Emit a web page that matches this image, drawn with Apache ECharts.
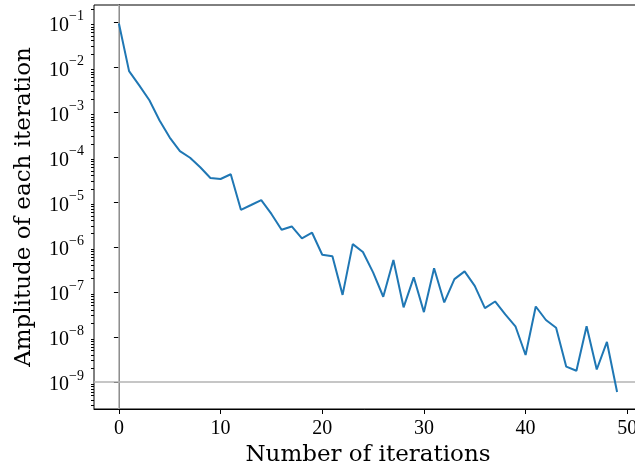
<!DOCTYPE html>
<html>
<head>
<meta charset="utf-8">
<title>Amplitude of each iteration</title>
<script src="https://cdn.jsdelivr.net/npm/echarts@6/dist/echarts.min.js"></script>
<style>
    html, body { margin: 0; padding: 0; background: #fff; }
    #main { width: 635px; height: 472px; }
</style>
</head>
<body>
<div id="main"></div>
<script>
    // 数据
    var iterations = [0, 1, 2, 3, 4, 5, 6, 7, 8, 9,
        10, 11, 12, 13, 14, 15, 16, 17, 18, 19,
        20, 21, 22, 23, 24, 25, 26, 27, 28, 29,
        30, 31, 32, 33, 34, 35, 36, 37, 38, 39,
        40, 41, 42, 43, 44, 45, 46, 47, 48, 49];
    var amplitude = [9.5e-2, 8.3e-3, 4.0e-3, 1.86e-3, 6.6e-4, 2.75e-4, 1.38e-4, 9.8e-5, 6.0e-5, 3.47e-5,
        3.3e-5, 4.2e-5, 6.8e-6, 8.7e-6, 1.12e-5, 5.5e-6, 2.45e-6, 2.9e-6, 1.58e-6, 2.1e-6,
        6.8e-7, 6.3e-7, 8.7e-8, 1.17e-6, 7.8e-7, 2.75e-7, 7.9e-8, 5.2e-7, 4.6e-8, 2.14e-7,
        3.6e-8, 3.4e-7, 5.9e-8, 1.95e-7, 2.9e-7, 1.38e-7, 4.4e-8, 6.2e-8, 3.2e-8, 1.74e-8,
        4.0e-9, 4.8e-8, 2.4e-8, 1.62e-8, 2.2e-9, 1.78e-9, 1.74e-8, 1.9e-9, 7.8e-9, 6.0e-10];
    var xTicks = [0, 10, 20, 30, 40, 50];
    var yExponents = [-9, -8, -7, -6, -5, -4, -3, -2, -1];
    var threshold = 1e-9;

    var xMin = -2.45, xMax = 51.45;
    var yMin = Math.pow(10, -9.60), yMax = Math.pow(10, -0.61);

    var yMajor = [];
    var yMinor = [];
    for (var i = 0; i < yExponents.length; i++) {
        yMajor.push(Math.pow(10, yExponents[i]));
    }
    for (var e = -10; e <= -1; e++) {
        for (var m = 2; m <= 9; m++) {
            var v = m * Math.pow(10, e);
            if (v > yMin && v < yMax) yMinor.push(v);
        }
    }

    var seriesData = [];
    for (var j = 0; j < iterations.length; j++) {
        seriesData.push([iterations[j], amplitude[j]]);
    }

    var font = '"Liberation Serif", "DejaVu Serif", serif';
    var nameFont = '"DejaVu Serif", serif';

    function powLabel(val) {
        var n = Math.round(Math.log(val) / Math.LN10);
        return '{b|10}{s|' + (n < 0 ? '\u2212' + (-n) : n) + '}';
    }

    var myChart = echarts.init(document.getElementById('main'));
    myChart.setOption({
        animation: false,
        grid: {
            left: 94, top: 5, right: -7, bottom: 63,
            show: true, borderColor: '#000', borderWidth: 1,
            containLabel: false, outerBoundsMode: 'none'
        },
        xAxis: {
            type: 'value',
            min: xMin,
            max: xMax,
            name: 'Number of iterations',
            nameLocation: 'middle',
            nameGap: 30,
            nameTextStyle: { fontFamily: nameFont, fontSize: 23, fontWeight: 'normal', color: '#000' },
            axisLine: { show: true, lineStyle: { color: '#000', width: 1 } },
            axisTick: { show: true, inside: false, length: 5, customValues: xTicks, lineStyle: { color: '#000' } },
            axisLabel: { customValues: xTicks, margin: 10, fontFamily: font, fontSize: 20, color: '#000' },
            splitLine: { show: false }
        },
        yAxis: [{
            type: 'log',
            logBase: 10,
            min: yMin,
            max: yMax,
            name: 'Amplitude of each iteration',
            nameLocation: 'middle',
            nameGap: 58,
            nameTextStyle: { fontFamily: nameFont, fontSize: 23, color: '#000' },
            axisLine: { show: true, lineStyle: { color: '#000', width: 1 } },
            axisTick: { show: true, inside: false, length: 5, customValues: yMajor, lineStyle: { color: '#000' } },
            axisLabel: {
                customValues: yMajor,
                margin: 10,
                formatter: powLabel,
                rich: {
                    b: { fontFamily: font, fontSize: 20, color: '#000', lineHeight: 26, verticalAlign: 'bottom' },
                    s: { fontFamily: font, fontSize: 14, color: '#000', lineHeight: 14, verticalAlign: 'top' }
                }
            },
            splitLine: { show: false }
        }, {
            // 次刻度
            type: 'log',
            logBase: 10,
            position: 'left',
            min: yMin,
            max: yMax,
            axisLine: { show: false },
            axisTick: { show: true, inside: false, length: 3, customValues: yMinor, lineStyle: { color: '#000' } },
            axisLabel: { show: false },
            splitLine: { show: false }
        }],
        series: [{
            type: 'line',
            data: seriesData,
            yAxisIndex: 0,
            symbol: 'none',
            z: 3,
            lineStyle: { color: '#1f77b4', width: 2 },
            markLine: {
                silent: true,
                symbol: 'none',
                z: 1,
                label: { show: false },
                lineStyle: { color: '#b3b3b3', opacity: 1, width: 1.6, type: 'solid' },
                data: [
                    [{ coord: [0, yMin] }, { coord: [0, yMax] }],
                    [{ coord: [xMin, threshold] }, { coord: [xMax, threshold] }]
                ]
            }
        }]
    });
</script>
</body>
</html>
